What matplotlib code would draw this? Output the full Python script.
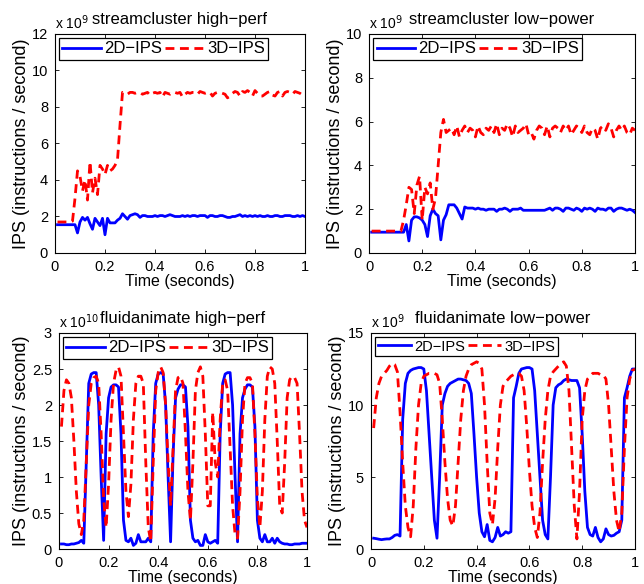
import numpy as np
import matplotlib
matplotlib.use('Agg')
import matplotlib.pyplot as plt

plt.rcParams['font.family'] = ['Liberation Sans', 'DejaVu Sans']
plt.rcParams['axes.linewidth'] = 0.8

# time axis (seconds), one sample every 10 ms
t = np.round(np.arange(1, 101) * 0.01, 2)

# streamcluster high-perf (x 1e9)
sc_hp_2d = [1.55,1.55,1.55,1.55,1.55,1.55,1.55,1.55,1.10,1.70,
            1.95,1.80,1.95,1.60,1.30,1.90,1.70,1.50,1.90,1.00,
            1.90,1.65,1.65,1.65,1.80,1.90,2.15,2.00,1.85,2.05,
            2.10,2.15,2.10,1.95,2.05,2.05,2.00,2.00,2.00,2.05,
            2.00,2.05,2.05,2.00,2.05,2.10,2.05,2.00,2.00,2.00,
            2.05,2.00,2.05,2.00,2.05,2.05,2.00,2.05,2.05,2.05,
            1.95,2.05,2.05,2.00,2.00,2.05,2.05,2.00,1.95,1.95,
            2.00,2.00,2.05,2.10,2.00,2.05,2.00,2.05,2.00,2.05,
            2.00,2.05,2.00,2.00,2.05,2.00,2.00,2.05,2.05,2.00,
            2.00,2.05,2.05,2.05,2.00,2.00,2.05,2.00,2.05,2.00]
sc_hp_3d = [1.70,1.70,1.70,1.70,1.70,1.70,1.75,3.00,4.50,4.20,
            3.40,4.00,2.90,5.00,3.30,4.10,3.20,4.80,4.60,4.30,
            4.80,4.50,4.60,4.80,5.10,7.00,8.80,8.75,8.70,8.80,
            8.80,8.75,8.80,8.80,8.70,8.75,8.80,8.65,8.75,8.80,
            8.75,8.80,8.55,8.80,8.75,8.70,8.80,8.80,8.75,8.80,
            8.55,8.70,8.80,8.75,8.80,8.80,8.70,8.85,8.80,8.75,
            8.80,8.80,8.60,8.75,8.80,8.80,8.75,8.70,8.50,8.60,
            8.75,8.85,8.80,8.60,8.85,8.80,8.90,8.80,8.60,8.90,
            8.75,8.60,8.60,8.70,8.80,8.85,8.65,8.60,8.80,8.85,
            8.60,8.80,8.85,8.80,8.70,8.85,8.80,8.75,8.65,8.60]

# streamcluster low-power (x 1e9)
sc_lp_2d = [0.95,0.95,0.95,0.95,0.95,0.95,0.95,0.95,0.95,0.95,
            0.95,0.95,0.95,1.30,0.55,1.50,1.65,1.65,1.60,1.50,
            1.30,0.75,1.70,2.00,1.80,1.70,0.60,1.50,1.75,2.20,
            2.20,2.20,2.05,1.80,1.55,2.10,2.05,2.05,2.05,2.00,
            2.05,2.00,2.00,1.95,2.00,2.00,2.00,1.90,2.00,2.00,
            2.05,2.00,1.90,2.00,2.00,2.00,2.05,1.95,1.95,1.95,
            1.95,1.95,1.95,1.95,1.95,1.95,2.00,2.05,1.95,2.05,
            2.05,2.00,1.90,2.05,2.05,2.00,1.95,2.05,2.00,1.90,
            2.05,2.00,2.05,2.00,1.90,2.05,2.00,2.00,1.95,2.05,
            2.05,1.90,2.00,2.05,2.05,2.00,1.95,2.00,1.95,1.85]
sc_lp_3d = [1.00,1.00,1.00,1.00,1.00,1.00,1.00,1.00,1.00,1.00,
            1.00,1.00,1.50,2.20,3.00,2.90,1.80,3.10,3.50,1.50,
            3.00,2.70,3.20,2.00,2.50,4.00,5.50,6.10,5.50,5.60,
            5.70,5.40,5.80,5.30,5.60,5.80,5.50,5.70,5.60,5.30,
            5.80,5.50,5.40,5.70,5.60,5.80,5.50,5.90,5.40,5.70,
            5.60,5.90,5.70,5.30,5.80,5.50,5.60,5.70,5.90,5.40,
            5.50,5.20,5.60,5.80,5.70,5.40,5.80,5.30,5.70,5.80,
            5.70,5.50,5.80,5.60,5.80,5.40,5.60,5.80,5.70,5.50,
            5.80,5.50,5.40,5.70,5.60,5.20,5.70,5.80,5.60,5.90,
            5.70,5.30,5.60,5.80,5.60,5.80,5.50,5.40,5.70,5.60]

# fluidanimate high-perf (x 1e10)
fa_hp_2d = [0.07,0.07,0.06,0.06,0.07,0.07,0.08,0.09,0.12,0.08,
            1.20,2.30,2.43,2.45,2.45,2.00,1.00,0.12,1.60,2.10,
            2.25,2.28,2.28,2.25,1.60,0.40,0.12,0.10,0.15,0.05,
            0.08,0.20,0.10,0.10,0.10,0.15,0.10,1.60,2.30,2.43,
            2.45,2.43,2.00,1.00,0.10,1.30,2.10,2.22,2.28,2.28,
            2.25,1.70,0.40,0.15,0.10,0.12,0.05,0.05,0.20,0.10,
            0.08,0.10,0.12,0.08,1.60,2.30,2.43,2.45,2.45,2.00,
            1.00,0.10,1.60,2.10,2.22,2.28,2.28,2.25,1.70,0.40,
            0.15,0.10,0.20,0.10,0.10,0.15,0.08,0.15,0.10,0.08,
            0.07,0.07,0.06,0.06,0.07,0.07,0.07,0.08,0.08,0.08]
fa_hp_3d = [1.70,2.20,2.35,2.30,2.10,1.50,0.80,0.35,0.20,0.40,
            1.20,2.00,2.30,2.38,2.40,2.30,1.60,0.70,0.30,0.90,
            1.80,2.30,2.48,2.53,2.40,1.60,0.80,0.45,0.90,1.80,
            2.30,2.40,2.40,2.30,1.20,0.30,0.10,1.20,2.20,2.45,
            2.53,2.45,2.00,1.20,0.60,1.40,2.20,2.38,2.40,2.30,
            1.60,0.80,0.40,1.20,2.20,2.45,2.53,2.40,1.60,0.60,
            0.60,1.90,1.20,1.00,1.80,2.30,2.35,2.20,1.40,0.60,
            0.20,0.15,0.80,1.80,2.30,2.38,2.38,2.30,1.60,0.70,
            0.30,0.80,1.80,2.40,2.53,2.50,2.30,1.50,0.60,0.50,
            1.20,2.10,2.35,2.40,2.38,2.30,1.60,0.80,0.40,0.30]

# fluidanimate low-power (x 1e9)
fa_lp_2d = [0.75,0.72,0.68,0.65,0.68,0.70,0.70,0.80,0.95,1.00,
            0.90,9.00,11.50,12.20,12.40,12.50,12.55,12.60,12.60,12.50,
            11.00,8.00,5.00,2.00,0.75,5.00,10.00,10.80,11.30,11.50,
            11.60,11.70,11.80,11.80,11.75,11.70,11.50,10.80,8.00,5.00,
            2.50,1.20,0.85,1.70,0.60,0.50,0.80,1.50,0.90,1.00,
            1.20,1.10,1.20,10.50,11.30,12.20,12.50,12.55,12.60,12.60,
            12.50,11.00,8.00,5.00,2.00,1.00,0.70,5.00,10.00,11.20,
            11.40,11.50,11.70,11.80,11.75,11.70,11.70,11.70,11.20,8.00,
            4.00,1.50,1.00,0.90,1.50,0.80,0.50,0.70,1.40,1.00,
            0.90,0.95,1.10,1.20,2.00,10.50,11.20,12.00,12.50,12.50]
fa_lp_3d = [8.40,10.50,11.50,12.00,12.20,12.40,12.70,12.90,12.80,12.30,
            9.50,6.00,3.00,1.50,0.85,3.00,7.00,10.00,11.50,12.00,
            12.10,12.20,12.20,12.20,12.10,11.50,9.00,6.00,3.50,2.00,
            1.60,3.00,6.00,9.00,11.00,12.00,12.50,12.80,12.90,13.00,
            12.90,12.50,10.00,6.00,2.50,1.70,3.50,7.00,10.00,11.30,
            11.60,11.80,12.00,12.10,12.20,12.20,12.00,11.00,8.50,5.50,
            3.00,1.50,0.80,2.50,6.00,9.00,11.00,12.00,12.30,12.50,
            12.70,12.90,13.00,12.70,11.00,7.00,3.00,0.70,4.00,9.00,
            11.00,11.80,12.00,12.20,12.20,12.20,12.10,12.10,11.80,10.00,
            7.00,4.00,2.00,1.20,2.50,7.00,10.50,11.80,12.40,12.50]

panels = [
    # title, exponent, 2D, 3D, ymax, ystep, axes rect, legend fontsize
    ('streamcluster high\u2212perf', 9, sc_hp_2d, sc_hp_3d, 12, 2,
     [0.0854, 0.5668, 0.3882, 0.3750], 12),
    ('streamcluster low\u2212power', 9, sc_lp_2d, sc_lp_3d, 10, 2,
     [0.5730, 0.5668, 0.4130, 0.3750], 12),
    ('fluidanimate high\u2212perf', 10, fa_hp_2d, fa_hp_3d, 3, 0.5,
     [0.0916, 0.0599, 0.3851, 0.3699], 12),
    ('fluidanimate low\u2212power', 9, fa_lp_2d, fa_lp_3d, 15, 5,
     [0.5761, 0.0599, 0.4099, 0.3699], 10.5),
]

fig = plt.figure(figsize=(6.44, 5.84), dpi=100)

for title, ex, y2, y3, ymax, ystep, rect, lfs in panels:
    ax = fig.add_axes(rect)
    ax.plot(t, y2, color='#0000ff', lw=2, label='2D\u2212IPS')
    ax.plot(t, y3, color='#ff0000', lw=2, dashes=(3.2, 2.0), label='3D\u2212IPS')
    ax.set_xlim(0, 1)
    ax.set_ylim(0, ymax)
    ax.set_xticks([0, 0.2, 0.4, 0.6, 0.8, 1])
    ax.set_xticklabels(['0', '0.2', '0.4', '0.6', '0.8', '1'])
    yt = np.arange(0, ymax + ystep / 2, ystep)
    ax.set_yticks(yt)
    ax.set_yticklabels(['%g' % v for v in yt])
    ax.tick_params(direction='in', top=True, right=True, labelsize=10.5,
                   length=3, width=0.6, pad=5)
    ax.set_xlabel('Time (seconds)', fontsize=11.5, labelpad=0)
    ax.set_ylabel('IPS (instructions / second)', fontsize=13, labelpad=1)
    ax.set_title(title, fontsize=12, pad=7)
    ax.text(0, 1.025, 'x 10$^{%d}$' % ex, transform=ax.transAxes,
            fontsize=10, ha='left', va='baseline')
    leg = ax.legend(loc='upper left', ncol=2, fontsize=lfs, frameon=True,
                    fancybox=False, framealpha=1, edgecolor='black',
                    handlelength=2.3, handletextpad=0.2, columnspacing=0.2,
                    borderpad=0.2, borderaxespad=0.25)
    leg.get_frame().set_linewidth(0.9)

fig.savefig('out.png', dpi=100)
